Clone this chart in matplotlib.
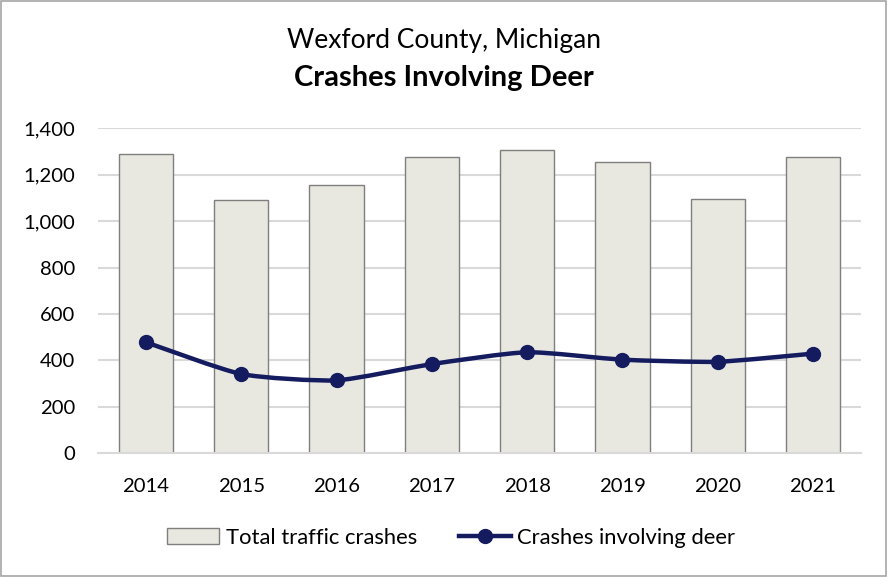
import matplotlib
matplotlib.use("Agg")
import matplotlib.pyplot as plt
from matplotlib.path import Path
from matplotlib.patches import PathPatch, Rectangle
from matplotlib.lines import Line2D
import numpy as np

plt.rcParams['font.family'] = ['Lato', 'DejaVu Sans']

years = ["2014", "2015", "2016", "2017", "2018", "2019", "2020", "2021"]
total_crashes = [1288, 1093, 1157, 1277, 1307, 1254, 1094, 1277]
deer_crashes = [478, 341, 314, 384, 435, 403, 394, 429]
y_ticks = [0, 200, 400, 600, 800, 1000, 1200, 1400]

bar_color = "#E8E8E0"
bar_edge = "#7F7F7F"
line_color = "#141B5E"
grid_color = "#D9D9D9"

fig = plt.figure(figsize=(8.88, 5.77), dpi=100)
ax = fig.add_axes([0.1108, 0.2146, 0.8583, 0.5630])

x = np.arange(len(years))
ax.bar(x, total_crashes, width=0.57, color=bar_color, edgecolor=bar_edge,
       linewidth=1.0, zorder=2)

# gently smoothed line through the points (cardinal spline as cubic Bezier)
tension = 0.1
pts = np.column_stack([x, deer_crashes]).astype(float)
verts = [tuple(pts[0])]
codes = [Path.MOVETO]
for i in range(len(pts) - 1):
    p0 = pts[i - 1] if i > 0 else pts[i]
    p1 = pts[i]
    p2 = pts[i + 1]
    p3 = pts[i + 2] if i + 2 < len(pts) else pts[i + 1]
    c1 = p1 + (p2 - p0) * tension
    c2 = p2 - (p3 - p1) * tension
    verts += [tuple(c1), tuple(c2), tuple(p2)]
    codes += [Path.CURVE4] * 3
ax.add_patch(PathPatch(Path(verts, codes), facecolor="none", edgecolor=line_color,
                       linewidth=3.2, zorder=3, capstyle="round", joinstyle="round"))
ax.plot(x, deer_crashes, linestyle="none", marker="o", markersize=10,
        color=line_color, zorder=4)

ax.set_xlim(-0.5, len(years) - 0.5)
ax.set_ylim(0, 1400)
ax.set_yticks(y_ticks)
ax.set_yticklabels([f"{v:,}" for v in y_ticks])
ax.set_xticks(x)
ax.set_xticklabels(years)
ax.tick_params(axis="both", length=0, labelsize=14.6, colors="#000000")
ax.tick_params(axis="x", pad=18)
ax.tick_params(axis="y", pad=16.5)
ax.yaxis.grid(True, color=grid_color, linewidth=1.5, zorder=0)
ax.set_axisbelow(True)
for side in ["top", "right", "left"]:
    ax.spines[side].set_visible(False)
ax.spines["bottom"].set_color(grid_color)
ax.spines["bottom"].set_linewidth(1.5)

fig.text(0.5, 0.930, "Wexford County, Michigan", ha="center", va="center",
         fontsize=19)
fig.text(0.5, 0.864, "Crashes Involving Deer", ha="center", va="center",
         fontsize=21, fontweight="bold")

handles = [
    Rectangle((0, 0), 1, 1, facecolor=bar_color, edgecolor=bar_edge, linewidth=1.0),
    Line2D([0], [0], color=line_color, linewidth=3.2, marker="o", markersize=10),
]
fig.legend(handles, ["Total traffic crashes", "Crashes involving deer"],
           loc="center", bbox_to_anchor=(0.508, 0.068), ncol=2, frameon=False,
           fontsize=15.8, handlelength=2.4, handletextpad=0.28, columnspacing=1.9)

fig.add_artist(Rectangle((0.001, 0.002), 0.997, 0.996, transform=fig.transFigure,
                         fill=False, edgecolor="#A6A6A6", linewidth=1.2))

fig.savefig("out.png", dpi=100)
